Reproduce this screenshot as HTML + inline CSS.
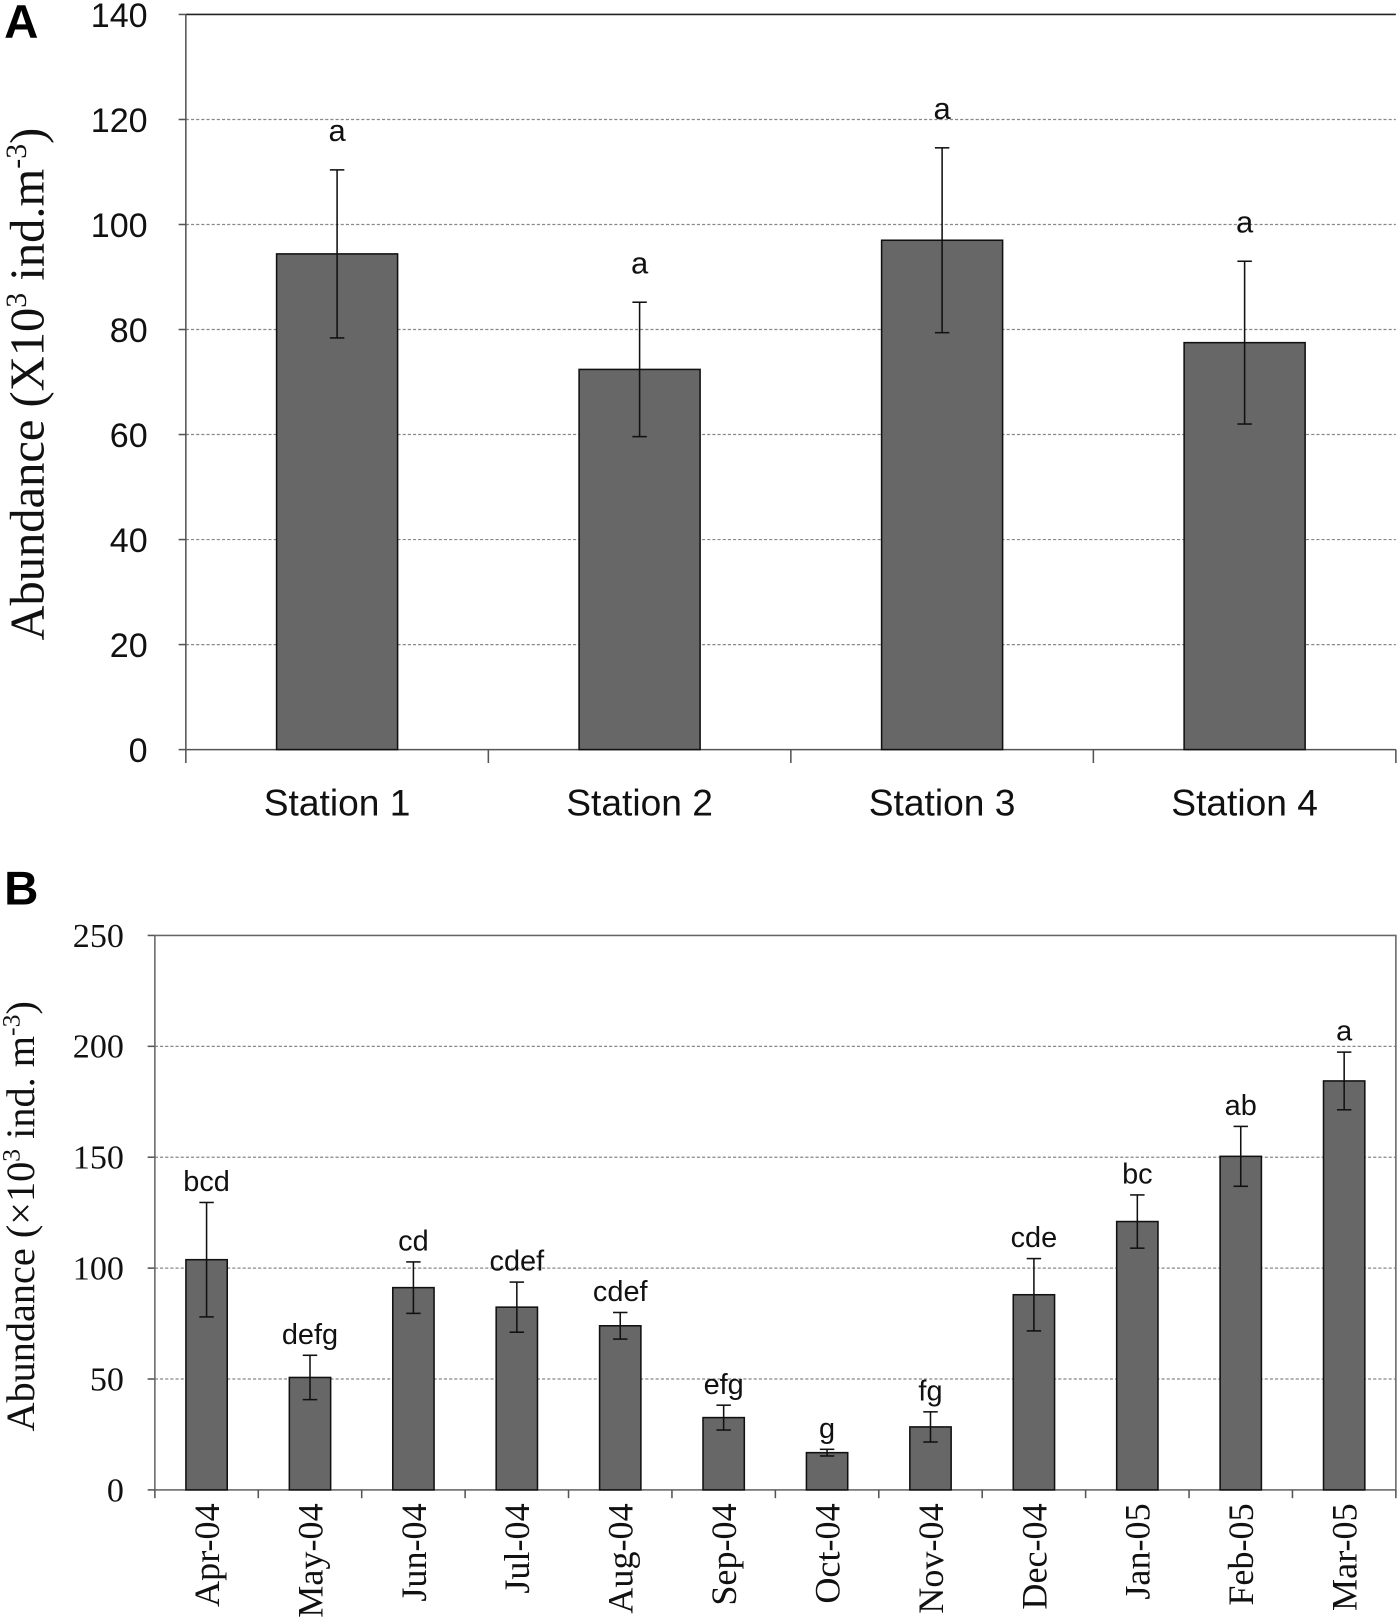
<!DOCTYPE html>
<html><head><meta charset="utf-8"><style>
body{margin:0;background:#fff}
svg{display:block}
</style></head><body>
<svg id="c" width="1400" height="1620" viewBox="0 0 1356 1569" preserveAspectRatio="none" xmlns="http://www.w3.org/2000/svg"></svg>
<script>
const stations=["Station 1","Station 2","Station 3","Station 4"];
const stationVals=[94.4,72.4,97,77.5];
const stationErr=[16,12.8,17.6,15.5];
const stationLetters=["a","a","a","a"];
const ticksA=[0,20,40,60,80,100,120,140];
const months=["Apr-04","May-04","Jun-04","Jul-04","Aug-04","Sep-04","Oct-04","Nov-04","Dec-04","Jan-05","Feb-05","Mar-05"];
const monthVals=[103.8,50.7,91.2,82.4,74,32.6,16.8,28.4,88,121,150.4,184.4];
const monthErr=[25.8,10,11.6,11.3,6,5.6,1.5,6.8,16.3,12,13.5,13];
const monthLetters=["bcd","defg","cd","cdef","cdef","efg","g","fg","cde","bc","ab","a"];
const ticksB=[0,50,100,150,200,250];

const svg=document.getElementById('c');
const NS="http://www.w3.org/2000/svg";
function mk(t,a,p){const e=document.createElementNS(NS,t);for(const k in a)e.setAttribute(k,a[k]);(p||svg).appendChild(e);return e;}
const SANS='"Liberation Sans", "DejaVu Sans", sans-serif', SERIF='"Liberation Serif", serif';

// Panel A
const gA=mk('g',{});


const AL=180,AR=1352,AT=14,AB=726,AMAX=140;
const yA=v=>AB-(v/AMAX)*(AB-AT);
const bwA=(AR-AL)/stations.length;
const xA=i=>AL+bwA*(i+0.5);
ticksA.forEach(t=>{
  if(t>0){const top=t===AMAX;const g=mk('line',{x1:AL,x2:AR,y1:yA(t),y2:yA(t),stroke:top?'#222':'#888','stroke-dasharray':top?'none':'3,2','stroke-width':top?1.6:1.2},gA);
  }
  mk('line',{x1:AL-7,x2:AL,y1:yA(t),y2:yA(t),stroke:'#555','stroke-width':1.5},gA);
  const tx=mk('text',{x:143,y:yA(t)+12,'text-anchor':'end','font-family':SANS,'font-size':33,fill:'#111'},gA);
  tx.textContent=t;
  
  
});
mk('line',{x1:AL,x2:AL,y1:AT,y2:AB,stroke:'#555','stroke-width':1.5},gA);
mk('line',{x1:AL,x2:AR,y1:AB,y2:AB,stroke:'#555','stroke-width':1.5},gA);
for(let i=0;i<=stations.length;i++)mk('line',{x1:AL+bwA*i,x2:AL+bwA*i,y1:AB,y2:AB+13,stroke:'#555','stroke-width':1.5},gA);
stations.forEach((s,i)=>{
  const w=bwA*0.4,v=stationVals[i],e=stationErr[i];
  const r=mk('rect',{x:xA(i)-w/2,y:yA(v),width:w,height:AB-yA(v),fill:'#676767',stroke:'#111','stroke-width':1.5},gA);
  
  
  mk('line',{x1:xA(i),x2:xA(i),y1:yA(v+e),y2:yA(v-e),stroke:'#111','stroke-width':1.5},gA);
  mk('line',{x1:xA(i)-7,x2:xA(i)+7,y1:yA(v+e),y2:yA(v+e),stroke:'#111','stroke-width':1.5},gA);
  mk('line',{x1:xA(i)-7,x2:xA(i)+7,y1:yA(v-e),y2:yA(v-e),stroke:'#111','stroke-width':1.5},gA);
  const l=mk('text',{x:xA(i),y:yA(v+e)-28,'text-anchor':'middle','font-family':SANS,'font-size':30,fill:'#111'},gA);
  l.textContent=stationLetters[i];
  
  
  const c=mk('text',{x:xA(i),y:790,'text-anchor':'middle','font-family':SANS,'font-size':36,fill:'#111'},gA);
  c.textContent=s;
  
  
});
const tA=mk('text',{transform:'translate(42,372) rotate(-90)','text-anchor':'middle','font-family':SERIF,'font-size':47,fill:'#111'},gA);
tA.innerHTML='Abundance (X10<tspan dy="-17" font-size="29">3</tspan><tspan dy="17"> ind.m</tspan><tspan dy="-17" font-size="29">-3</tspan><tspan dy="17">)</tspan>';


const la=mk('text',{x:4,y:37,'font-family':SANS,'font-size':46,'font-weight':'bold',fill:'#000'});
la.textContent='A';



// Panel B
const gB=mk('g',{});


const BL=150,BR=1352,BT=906,BB=1443,BMAX=250;
const yB=v=>BB-(v/BMAX)*(BB-BT);
const bwB=(BR-BL)/months.length;
const xB=i=>BL+bwB*(i+0.5);
ticksB.forEach(t=>{
  if(t>0&&t<BMAX){const g=mk('line',{x1:BL,x2:BR,y1:yB(t),y2:yB(t),stroke:'#888','stroke-dasharray':'3,2','stroke-width':1.2},gB);
  }
  mk('line',{x1:BL-7,x2:BL,y1:yB(t),y2:yB(t),stroke:'#555','stroke-width':1.5},gB);
  const tx=mk('text',{x:120,y:yB(t)+11,'text-anchor':'end','font-family':SERIF,'font-size':33,fill:'#111'},gB);
  tx.textContent=t;
  
  
});
mk('rect',{x:BL,y:BT,width:BR-BL,height:BB-BT,fill:'none',stroke:'#666','stroke-width':1.5},gB);
for(let i=0;i<=months.length;i++)mk('line',{x1:BL+bwB*i,x2:BL+bwB*i,y1:BB,y2:BB+8,stroke:'#555','stroke-width':1.5},gB);
months.forEach((m,i)=>{
  const w=40,v=monthVals[i],e=monthErr[i];
  const r=mk('rect',{x:xB(i)-w/2,y:yB(v),width:w,height:BB-yB(v),fill:'#676767',stroke:'#111','stroke-width':1.5},gB);
  
  
  mk('line',{x1:xB(i),x2:xB(i),y1:yB(v+e),y2:yB(v-e),stroke:'#111','stroke-width':1.5},gB);
  mk('line',{x1:xB(i)-7,x2:xB(i)+7,y1:yB(v+e),y2:yB(v+e),stroke:'#111','stroke-width':1.5},gB);
  mk('line',{x1:xB(i)-7,x2:xB(i)+7,y1:yB(v-e),y2:yB(v-e),stroke:'#111','stroke-width':1.5},gB);
  const l=mk('text',{x:xB(i),y:yB(v+e)-11,'text-anchor':'middle','font-family':SANS,'font-size':28,fill:'#111'},gB);
  l.textContent=monthLetters[i];
  
  
  const c=mk('text',{transform:`translate(${xB(i)+12},1456) rotate(-90)`,'text-anchor':'end','font-family':SERIF,'font-size':35,fill:'#111'},gB);
  c.textContent=m;
  
  
});
const tB=mk('text',{transform:'translate(33,1178) rotate(-90)','text-anchor':'middle','font-family':SERIF,'font-size':39,fill:'#111'},gB);
tB.innerHTML='Abundance (×10<tspan dy="-14" font-size="25">3</tspan><tspan dy="14"> ind. m</tspan><tspan dy="-14" font-size="25">-3</tspan><tspan dy="14">)</tspan>';


const lb=mk('text',{x:4,y:876,'font-family':SANS,'font-size':46,'font-weight':'bold',fill:'#000'});
lb.textContent='B';


</script>
</body></html>
